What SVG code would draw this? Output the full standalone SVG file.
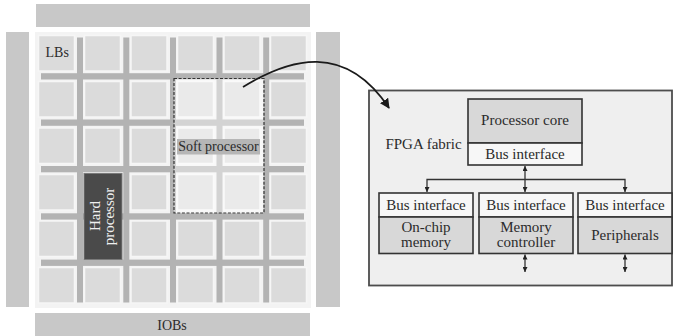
<svg xmlns="http://www.w3.org/2000/svg" width="677" height="336" viewBox="0 0 677 336">
  <style>
    text { font-family: "Liberation Serif", "Times New Roman", serif; fill: #2b2b2b; }
    .iob { fill: #c8c8c8; }
    .cell { fill: #dbdbdb; stroke: #f6f6f6; stroke-width: 1.5; }
    .chan { fill: #b3b3b3; }
    .box { stroke: #333; stroke-width: 1.6; }
    .dark { fill: #d8d8d8; }
    .light { fill: #f7f7f7; }
    .bus { fill: none; stroke: #333; stroke-width: 1.3; }
    .t15 { font-size: 15px; }
    .t14 { font-size: 14px; }
  </style>
  <defs>
    <marker id="bigArrow" viewBox="0 0 10 10" refX="9" refY="5" markerWidth="10" markerHeight="10" markerUnits="userSpaceOnUse" orient="auto">
      <path d="M0,0 L10,5 L0,10 z" fill="#1a1a1a"/>
    </marker>
    <marker id="tip" viewBox="0 0 6 6" refX="6" refY="3" markerWidth="6" markerHeight="5" markerUnits="userSpaceOnUse" orient="auto-start-reverse">
      <path d="M0,0 L6,3 L0,6 z" fill="#222"/>
    </marker>
  </defs>

  <rect width="677" height="336" fill="#ffffff"/>

  <!-- I/O blocks around the fabric -->
  <g id="iob-top"><rect class="iob" x="36" y="4" width="274" height="23"/></g>
  <g id="iob-left"><rect class="iob" x="6" y="32" width="23" height="275"/></g>
  <g id="iob-right"><rect class="iob" x="316" y="32" width="24" height="275"/></g>
  <g id="iob-bottom">
    <rect class="iob" x="35" y="313" width="275" height="23"/>
    <text class="t14" x="172" y="330" text-anchor="middle">IOBs</text>
  </g>

  <!-- Logic block array with routing channels -->
  <g id="fabric">
    <rect x="35" y="32" width="276" height="276" fill="#f3f3f3"/>
    <g id="channels">
      <rect class="chan" x="77" y="37.5" width="6" height="265"/>
      <rect class="chan" x="123.3" y="37.5" width="6" height="265"/>
      <rect class="chan" x="170" y="37.5" width="6" height="265"/>
      <rect class="chan" x="216.5" y="37.5" width="6" height="265"/>
      <rect class="chan" x="263.2" y="37.5" width="6" height="265"/>
      <rect class="chan" x="41" y="73.2" width="263" height="6.3"/>
      <rect class="chan" x="41" y="119.5" width="263" height="6.3"/>
      <rect class="chan" x="41" y="166" width="263" height="6.3"/>
      <rect class="chan" x="41" y="213.3" width="263" height="6.3"/>
      <rect class="chan" x="41" y="259.6" width="263" height="6.3"/>
    </g>
    <g id="cells">
      <rect class="cell" x="38.5" y="35.5" width="36" height="35.5"/>
      <rect class="cell" x="84.5" y="35.5" width="36" height="35.5"/>
      <rect class="cell" x="131" y="35.5" width="36" height="35.5"/>
      <rect class="cell" x="177.5" y="35.5" width="36" height="35.5"/>
      <rect class="cell" x="224" y="35.5" width="36" height="35.5"/>
      <rect class="cell" x="270.5" y="35.5" width="36" height="35.5"/>

      <rect class="cell" x="38.5" y="81.5" width="36" height="35.5"/>
      <rect class="cell" x="84.5" y="81.5" width="36" height="35.5"/>
      <rect class="cell" x="131" y="81.5" width="36" height="35.5"/>
      <rect class="cell" x="177.5" y="81.5" width="36" height="35.5"/>
      <rect class="cell" x="224" y="81.5" width="36" height="35.5"/>
      <rect class="cell" x="270.5" y="81.5" width="36" height="35.5"/>

      <rect class="cell" x="38.5" y="128" width="36" height="35.5"/>
      <rect class="cell" x="84.5" y="128" width="36" height="35.5"/>
      <rect class="cell" x="131" y="128" width="36" height="35.5"/>
      <rect class="cell" x="177.5" y="128" width="36" height="35.5"/>
      <rect class="cell" x="224" y="128" width="36" height="35.5"/>
      <rect class="cell" x="270.5" y="128" width="36" height="35.5"/>

      <rect class="cell" x="38.5" y="174.5" width="36" height="35.5"/>
      <rect class="cell" x="131" y="174.5" width="36" height="35.5"/>
      <rect class="cell" x="177.5" y="174.5" width="36" height="35.5"/>
      <rect class="cell" x="224" y="174.5" width="36" height="35.5"/>
      <rect class="cell" x="270.5" y="174.5" width="36" height="35.5"/>

      <rect class="cell" x="38.5" y="221" width="36" height="35.5"/>
      <rect class="cell" x="131" y="221" width="36" height="35.5"/>
      <rect class="cell" x="177.5" y="221" width="36" height="35.5"/>
      <rect class="cell" x="224" y="221" width="36" height="35.5"/>
      <rect class="cell" x="270.5" y="221" width="36" height="35.5"/>

      <rect class="cell" x="38.5" y="267.5" width="36" height="35.5"/>
      <rect class="cell" x="84.5" y="267.5" width="36" height="35.5"/>
      <rect class="cell" x="131" y="267.5" width="36" height="35.5"/>
      <rect class="cell" x="177.5" y="267.5" width="36" height="35.5"/>
      <rect class="cell" x="224" y="267.5" width="36" height="35.5"/>
      <rect class="cell" x="270.5" y="267.5" width="36" height="35.5"/>
    </g>
    <text class="t14" x="45.5" y="57">LBs</text>
  </g>

  <!-- Soft processor mapped onto logic blocks -->
  <g id="soft-processor">
    <rect x="174" y="78.5" width="90" height="134.5" fill="#ffffff" fill-opacity="0.42"/>
    <rect x="174" y="78.5" width="90" height="134.5" fill="none" stroke="#333" stroke-width="1.2" stroke-dasharray="3,1.6"/>
    <rect x="177" y="139" width="83" height="15.5" fill="#b6b6b6"/>
    <text class="t14" x="218.5" y="151" text-anchor="middle">Soft processor</text>
  </g>

  <!-- Hard processor block -->
  <g id="hard-processor">
    <rect x="84" y="173.5" width="38" height="86" fill="#4a4a4a" stroke="#7a7a7a" stroke-width="1"/>
    <text class="t15" transform="translate(99.5,216) rotate(-90)" text-anchor="middle" style="fill:#f0f0f0">Hard</text>
    <text class="t15" transform="translate(113.5,216.5) rotate(-90)" text-anchor="middle" style="fill:#f0f0f0">processor</text>
  </g>

  <!-- Zoomed-in view of the soft processor system -->
  <g id="fpga-fabric">
    <rect x="369" y="90.5" width="303" height="195" fill="#efefef" stroke="#4d4d4d" stroke-width="1.8"/>
    <text class="t15" x="423.5" y="148.5" text-anchor="middle">FPGA fabric</text>
  </g>

  <g id="processor-core">
    <rect class="box dark" x="468" y="99" width="114" height="44"/>
    <rect class="box light" x="468" y="143" width="114" height="22"/>
    <text class="t15" x="525" y="124.5" text-anchor="middle">Processor core</text>
    <text class="t15" x="525" y="158.5" text-anchor="middle">Bus interface</text>
  </g>

  <g id="on-chip-memory">
    <rect class="box light" x="379" y="193" width="94" height="24"/>
    <rect class="box dark" x="379" y="217" width="94" height="36.5"/>
    <text class="t15" x="426" y="209.5" text-anchor="middle">Bus interface</text>
    <text class="t15" x="426" y="232" text-anchor="middle">On-chip</text>
    <text class="t15" x="426" y="247" text-anchor="middle">memory</text>
  </g>

  <g id="memory-controller">
    <rect class="box light" x="479" y="193" width="94" height="24"/>
    <rect class="box dark" x="479" y="217" width="94" height="36.5"/>
    <text class="t15" x="526" y="209.5" text-anchor="middle">Bus interface</text>
    <text class="t15" x="526" y="232" text-anchor="middle">Memory</text>
    <text class="t15" x="526" y="247" text-anchor="middle">controller</text>
  </g>

  <g id="peripherals">
    <rect class="box light" x="578" y="193" width="94" height="24"/>
    <rect class="box dark" x="578" y="217" width="94" height="36.5"/>
    <text class="t15" x="625" y="209.5" text-anchor="middle">Bus interface</text>
    <text class="t15" x="625" y="240" text-anchor="middle">Peripherals</text>
  </g>

  <!-- Connectors -->
  <g id="connectors">
    <path d="M243,87 C290,58 345,42 389,108" fill="none" stroke="#1a1a1a" stroke-width="1.8" marker-end="url(#bigArrow)"/>
    <path class="bus" d="M427,192 V179.5 H625 V192" marker-start="url(#tip)" marker-end="url(#tip)"/>
    <path class="bus" d="M525,166 V192" marker-start="url(#tip)" marker-end="url(#tip)"/>
    <path class="bus" d="M525,254.5 V272" marker-start="url(#tip)" marker-end="url(#tip)"/>
    <path class="bus" d="M625,254.5 V272" marker-start="url(#tip)" marker-end="url(#tip)"/>
  </g>
</svg>
